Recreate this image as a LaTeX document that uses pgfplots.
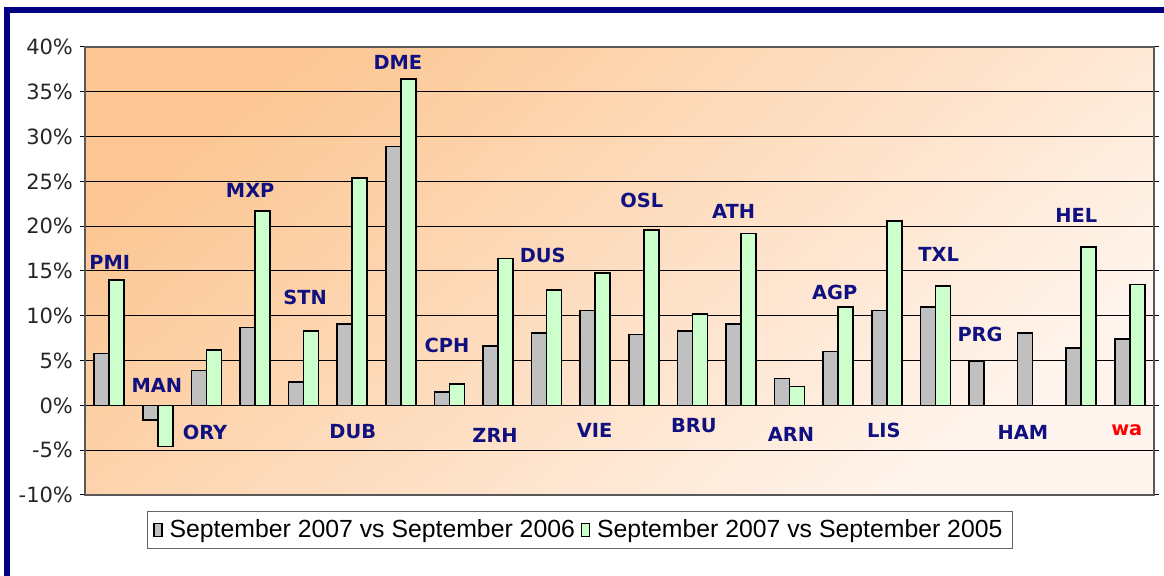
\documentclass[border=0pt]{standalone}
\usepackage{pgfplots}
\pgfplotsset{compat=1.18}
\usepackage{pgfplotstable}
\usepackage{fontspec}
\setmainfont{DejaVu Sans}
\newfontfamily\legfont{Liberation Sans}

\definecolor{navyb}{RGB}{0,0,128}
\definecolor{labblue}{RGB}{16,16,128}
\definecolor{bargray}{RGB}{192,192,192}
\definecolor{bargreen}{RGB}{204,255,204}
\definecolor{bgorange}{RGB}{252,199,148}
\definecolor{bglight}{RGB}{255,245,238}

\pgfplotstableread{
idx gray green
0 5.8 14.0
1 -1.6 -4.6
2 3.9 6.2
3 8.7 21.7
4 2.6 8.3
5 9.1 25.4
6 28.9 36.4
7 1.5 2.4
8 6.6 16.4
9 8.1 12.9
10 10.6 14.8
11 7.9 19.6
12 8.3 10.2
13 9.1 19.2
14 3.0 2.1
15 6.0 11.0
16 10.6 20.6
17 11.0 13.3
18 4.9 nan
19 8.1 nan
20 6.4 17.7
21 7.4 13.5
}\traffic

\begin{document}
\begin{tikzpicture}[lab/.style={font=\fontsize{9.7}{11}\selectfont\bfseries, text=labblue}]
\useasboundingbox (0,0) rectangle (582pt,288pt);
% frame of the slide
\fill[navyb] (2.5pt,281.5pt) rectangle (582pt,284.5pt);
\fill[navyb] (2.2pt,0pt) rectangle (5.2pt,284.5pt);
\begin{axis}[
    at={(42.5pt,40.5pt)}, anchor=south west,
    scale only axis,
    width=534.5pt, height=224pt,
    clip=false,
    ybar=0pt, bar width=7.5pt,
    xmin=-0.5, xmax=21.5,
    ymin=-10, ymax=40,
    xtick=\empty,
    ytick={-10,-5,...,40},
    yticklabels={-10\%,-5\%,0\%,5\%,10\%,15\%,20\%,25\%,30\%,35\%,40\%},
    yticklabel style={font=\fontsize{10.5}{12}\selectfont, text=black!85},
    tick align=outside,
    major tick length=2.5pt,
    ytick style={black, line width=0.5pt},
    ymajorgrids=true,
    grid style={black, line width=0.5pt},
    axis line style={gray!70!black, line width=0.8pt},
    axis background/.style={shade, top color=bgorange, bottom color=bglight, shading angle=40},
    legend columns=2,
    legend style={at={(0.463,-0.036)}, anchor=north, draw=gray!80!black, line width=0.5pt,
        font=\legfont\fontsize{12.4}{14}\selectfont, inner ysep=2pt, inner xsep=3pt,
        /tikz/every odd column/.append style={column sep=1.5pt},
        /tikz/every even column/.append style={column sep=1pt}},
    legend image code/.code={\draw[#1, line width=0.6pt] (0pt,-3.2pt) rectangle (4pt,3.2pt);},
]
\addplot[fill=bargray, draw=black, line width=0.8pt] table[x=idx, y=gray] {\traffic};
\addplot[fill=bargreen, draw=black, line width=0.8pt] table[x=idx, y=green] {\traffic};
\legend{September 2007 vs September 2006, September 2007 vs September 2005}

\node[lab] at (axis cs:0.01,16.0) {PMI};
\node[lab] at (axis cs:0.98,2.2) {MAN};
\node[lab] at (axis cs:1.97,-3.0) {ORY};
\node[lab] at (axis cs:2.9,24.0) {MXP};
\node[lab] at (axis cs:4.03,12.05) {STN};
\node[lab] at (axis cs:5.01,-2.9) {DUB};
\node[lab] at (axis cs:5.94,38.3) {DME};
\node[lab] at (axis cs:6.95,6.7) {CPH};
\node[lab] at (axis cs:7.94,-3.35) {ZRH};
\node[lab] at (axis cs:8.92,16.7) {DUS};
\node[lab] at (axis cs:9.99,-2.8) {VIE};
\node[lab] at (axis cs:10.96,22.9) {OSL};
\node[lab] at (axis cs:12.03,-2.3) {BRU};
\node[lab] at (axis cs:12.85,21.65) {ATH};
\node[lab] at (axis cs:14.03,-3.2) {ARN};
\node[lab] at (axis cs:14.93,12.6) {AGP};
\node[lab] at (axis cs:15.94,-2.8) {LIS};
\node[lab] at (axis cs:17.07,16.85) {TXL};
\node[lab] at (axis cs:17.92,7.9) {PRG};
\node[lab] at (axis cs:18.8,-3.0) {HAM};
\node[lab] at (axis cs:19.9,21.2) {HEL};
\node[lab, text=red] at (axis cs:20.94,-2.8) {wa};
\end{axis}
\end{tikzpicture}
\end{document}
